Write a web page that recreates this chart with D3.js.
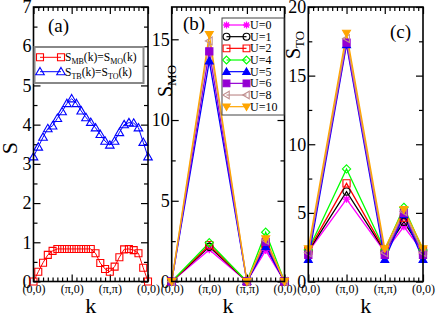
<!DOCTYPE html>
<html><head><meta charset="utf-8">
<script src="https://cdn.jsdelivr.net/npm/d3@7"></script>
<style>
body{margin:0;background:#fff}
svg{display:block}
text{font-family:"Liberation Serif","Times New Roman",serif;fill:#000}
</style>
</head><body>
<svg id="c" width="436" height="317"></svg>
<script>
// ---------- data ----------
const kTickLabels = ["(0,0)","(π,0)","(π,π)","(0,0)"];
const kTickIndex = [0, 8, 16, 24];
const kMinorIndex = [1,2,3,4,5,6,7,9,10,11,12,13,14,15,17,18,19,20,21,22,23];
const kPathA = [0,1,2,3,4,5,6,7,8,9,10,11,12,13,14,15,16,17,18,19,20,21,22,23,24];
const sMB = [0.0,0.25,0.48,0.68,0.78,0.83,0.83,0.83,0.83,0.83,0.83,0.83,0.83,0.72,0.47,0.32,0.25,0.38,0.62,0.82,0.83,0.80,0.72,0.35,0.0];
const sTB = [3.18,3.43,3.68,3.90,3.97,4.16,4.33,4.54,4.66,4.54,4.35,4.18,4.06,3.92,3.75,3.58,3.48,3.58,3.80,4.00,4.05,4.04,3.92,3.55,3.18];
const legendA = ["MB","MO","TB","TO"];

const uLabels = ["U=0","U=1","U=2","U=4","U=5","U=6","U=8","U=10"];
const kPathBC = [0, 8, 16, 20, 24];
const sMO = [
  [0, 1.97, 0, 1.93, 0],
  [0, 2.15, 0, 2.20, 0],
  [0, 2.25, 0, 2.35, 0],
  [0, 2.40, 0, 3.05, 0],
  [0, 13.65, 0, 2.15, 0],
  [0, 14.25, 0, 2.45, 0],
  [0, 14.90, 0, 2.55, 0],
  [0, 15.30, 0, 2.65, 0]
];
const sTO = [
  [2.15, 6.00, 2.15, 4.00, 2.15],
  [2.20, 6.55, 2.20, 4.35, 2.20],
  [2.25, 7.15, 2.25, 4.65, 2.25],
  [2.30, 8.20, 2.30, 5.40, 2.30],
  [1.60, 17.25, 1.60, 4.85, 1.60],
  [1.95, 17.40, 1.95, 5.00, 1.95],
  [2.10, 17.70, 2.10, 5.10, 2.10],
  [2.40, 18.10, 2.40, 5.25, 2.40]
];
const yTicksA = [0,1,2,3,4,5,6,7];
const yTicksB = [0,5,10,15];
const yTicksC = [0,5,10,15,20];

// ---------- styles ----------
const uColors = ["#ff00ff","#000000","#ff0000","#00ff00","#0000ff","#9400d3","#c09090","#ffa500"];
const uMarkers = ["star","circle","square","diamond","triUp","square","triLeft","triDown"];
const uFilled = [false,false,false,false,true,true,false,true];

const svg = d3.select("#c");

function markerPath(type, s){
  switch(type){
    case "square": return `M${-s},${-s}H${s}V${s}H${-s}Z`;
    case "diamond": return `M0,${-s*1.15}L${s*1.15},0L0,${s*1.15}L${-s*1.15},0Z`;
    case "triUp": return `M0,${-s*1.1}L${s*1.1},${s*0.8}L${-s*1.1},${s*0.8}Z`;
    case "triDown": return `M0,${s*1.1}L${s*1.1},${-s*0.8}L${-s*1.1},${-s*0.8}Z`;
    case "triLeft": return `M${-s*1.1},0L${s*0.8},${-s*1.1}L${s*0.8},${s*1.1}Z`;
    case "star": { const d=s*0.75; return `M${-s},0H${s}M0,${-s}V${s}M${-d},${-d}L${d},${d}M${-d},${d}L${d},${-d}`; }
  }
}
function drawMarker(g, type, x, y, color, filled, s){
  if(type==="circle"){
    g.append("circle").attr("cx",x).attr("cy",y).attr("r",s)
      .attr("fill","none").attr("stroke",color).attr("stroke-width",1.2);
  } else {
    g.append("path").attr("transform",`translate(${x},${y})`)
      .attr("d",markerPath(type,s))
      .attr("fill", filled ? color : "none")
      .attr("stroke",color).attr("stroke-width", type==="star"?1.3:1.1);
  }
}

const yTop = 7, yBottom = 281.5;

function panel(x0, x1, ymax, yTicks, yMinorStep){
  const x = d3.scaleLinear().domain([0,24]).range([x0,x1]);
  const y = d3.scaleLinear().domain([0,ymax]).range([yBottom,yTop]);
  const g = svg.append("g");
  const minorY = d3.range(0, ymax+1e-9, yMinorStep).filter(v => !yTicks.includes(v));
  const mk = (axis, tr, vals, size) => {
    const a = g.append("g").attr("transform",tr)
      .call(axis.tickValues(vals).tickSize(size).tickFormat(""));
    a.select(".domain").remove();
    a.selectAll("line").attr("stroke","#000").attr("stroke-width",1.2);
  };
  mk(d3.axisBottom(x), `translate(0,${yBottom})`, kMinorIndex, -4);
  mk(d3.axisTop(x), `translate(0,${yTop})`, kMinorIndex, -4);
  mk(d3.axisTop(x), `translate(0,${yTop})`, kTickIndex, -7);
  mk(d3.axisLeft(y), `translate(${x0},0)`, minorY, -4);
  mk(d3.axisRight(y), `translate(${x1},0)`, minorY, -4);
  mk(d3.axisRight(y), `translate(${x1},0)`, yTicks, -7);
  const ax = g.append("g").attr("transform",`translate(0,${yBottom})`)
    .call(d3.axisBottom(x).tickValues(kTickIndex).tickSize(-7).tickPadding(3)
      .tickFormat((d,i)=>kTickLabels[i]));
  ax.select(".domain").remove();
  ax.selectAll("line").attr("stroke","#000").attr("stroke-width",1.2);
  ax.selectAll("text").attr("font-size",12).attr("font-family","Liberation Serif");
  const ay = g.append("g").attr("transform",`translate(${x0},0)`)
    .call(d3.axisLeft(y).tickValues(yTicks).tickSize(-7).tickPadding(2).tickFormat(d=>String(d)));
  ay.select(".domain").remove();
  ay.selectAll("line").attr("stroke","#000").attr("stroke-width",1.2);
  ay.selectAll("text").attr("font-size",18).attr("font-family","Liberation Serif");
  return {g, x, y, x0, x1};
}

function frame(p){
  p.g.append("rect").attr("x",p.x0).attr("y",yTop)
    .attr("width",p.x1-p.x0).attr("height",yBottom-yTop)
    .attr("fill","none").attr("stroke","#000").attr("stroke-width",1.6);
}

// ---------- panel (a) ----------
const pa = panel(33.5, 148, 7, yTicksA, 0.5);
const lineA = d3.line().x((d,i)=>pa.x(kPathA[i])).y(d=>pa.y(d));
pa.g.append("path").attr("d",lineA(sMB)).attr("fill","none").attr("stroke","#ff0000").attr("stroke-width",1);
pa.g.append("path").attr("d",lineA(sTB)).attr("fill","none").attr("stroke","#0000ff").attr("stroke-width",1);
sMB.forEach((v,i)=>drawMarker(pa.g,"square",pa.x(kPathA[i]),pa.y(v),"#ff0000",false,3.5));
sTB.forEach((v,i)=>drawMarker(pa.g,"triUp",pa.x(kPathA[i]),pa.y(v),"#0000ff",false,3.9));
frame(pa);
const lgA = pa.g.append("g");
lgA.append("rect").attr("x",34.5).attr("y",47).attr("width",109).attr("height",36)
  .attr("fill","#fff").attr("stroke","#888").attr("stroke-width",2);
[[57.3,"#ff0000","square",3.5,legendA[0],legendA[1]],[71.7,"#0000ff","triUp",3.9,legendA[2],legendA[3]]].forEach(r=>{
  lgA.append("line").attr("x1",40).attr("x2",61).attr("y1",r[0]).attr("y2",r[0]).attr("stroke",r[1]).attr("stroke-width",1);
  drawMarker(lgA,r[2],40,r[0],r[1],false,r[3]);
  drawMarker(lgA,r[2],61,r[0],r[1],false,r[3]);
  const t = lgA.append("text").attr("x",65).attr("y",r[0]+4).attr("font-size",11.5);
  t.append("tspan").text("S");
  t.append("tspan").attr("font-size",8).attr("dy",3).text(r[4]);
  t.append("tspan").attr("dy",-3).text("(k)=S");
  t.append("tspan").attr("font-size",8).attr("dy",3).text(r[5]);
  t.append("tspan").attr("dy",-3).text("(k)");
});
pa.g.append("text").attr("x",48).attr("y",32).attr("font-size",19).text("(a)");
pa.g.append("text").attr("transform","translate(17,148) rotate(-90)").attr("text-anchor","middle").attr("font-size",22).text("S");
pa.g.append("text").attr("x",(pa.x0+pa.x1)/2).attr("y",313).attr("text-anchor","middle").attr("font-size",22).text("k");

// ---------- panels (b) and (c) ----------
function seriesPanel(p, data){
  data.forEach((row,u)=>{
    const line = d3.line().x((d,i)=>p.x(kPathBC[i])).y(d=>p.y(d));
    p.g.append("path").attr("d",line(row)).attr("fill","none").attr("stroke",uColors[u]).attr("stroke-width",1.3);
  });
  data.forEach((row,u)=>{
    row.forEach((v,i)=>drawMarker(p.g,uMarkers[u],p.x(kPathBC[i]),p.y(v),uColors[u],uFilled[u],3.6));
  });
}
const pb = panel(171.7, 284.5, 17, yTicksB, 2.5);
seriesPanel(pb, sMO);
frame(pb);
const lgB = pb.g.append("g");
lgB.append("rect").attr("x",222).attr("y",18).attr("width",62).attr("height",97)
  .attr("fill","#fff").attr("stroke","#444").attr("stroke-width",1);
uLabels.forEach((lab,u)=>{
  const yy = 25 + u*11.67;
  lgB.append("line").attr("x1",226.5).attr("x2",246.5).attr("y1",yy).attr("y2",yy).attr("stroke",uColors[u]).attr("stroke-width",1.2);
  drawMarker(lgB,uMarkers[u],226.5,yy,uColors[u],uFilled[u],3.4);
  drawMarker(lgB,uMarkers[u],246.5,yy,uColors[u],uFilled[u],3.4);
  lgB.append("text").attr("x",250).attr("y",yy+4).attr("font-size",12).text(lab);
});
pb.g.append("text").attr("x",183).attr("y",30).attr("font-size",19).text("(b)");
{
  const t = pb.g.append("text").attr("transform","translate(172,81) rotate(-90)").attr("text-anchor","middle").attr("font-size",20);
  t.append("tspan").text("S");
  t.append("tspan").attr("font-size",13).attr("dy",4).text("MO");
}
pb.g.append("text").attr("x",(pb.x0+pb.x1)/2).attr("y",313).attr("text-anchor","middle").attr("font-size",22).text("k");

const pc = panel(308.3, 423, 20, yTicksC, 2.5);
seriesPanel(pc, sTO);
frame(pc);
pc.g.append("text").attr("x",390).attr("y",38).attr("font-size",19).text("(c)");
{
  const t = pc.g.append("text").attr("transform","translate(300,45) rotate(-90)").attr("text-anchor","middle").attr("font-size",20);
  t.append("tspan").text("S");
  t.append("tspan").attr("font-size",13).attr("dy",4).text("TO");
}
pc.g.append("text").attr("x",(pc.x0+pc.x1)/2).attr("y",313).attr("text-anchor","middle").attr("font-size",22).text("k");
</script>
</body></html>
